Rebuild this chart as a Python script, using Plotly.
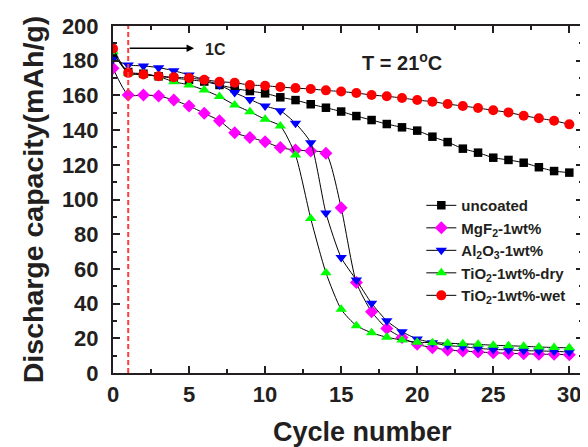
import plotly.graph_objects as go

cycles = list(range(31))

uncoated = [184, 173.5, 172.5, 171, 170, 169, 168, 166, 164, 162.5, 161.2, 158.9, 157.3, 154.9, 152.9,
            150.7, 148.1, 145.8, 143.5, 141.6, 139.7, 136.2, 133.1, 129.3, 127, 124.1, 122.8, 121.2,
            118.6, 116.4, 115.5]
mgf2 = [175.6, 160.2, 160.2, 159.7, 157.3, 153.9, 149.7, 145.4, 138.5, 135.8, 133.3, 129.9, 128.5,
        128, 126.6, 95.3, 52.1, 35.3, 25.7, 20.4, 16.5, 14.6, 13.3, 12.7, 12.1, 11.7, 11.3, 11.1,
        10.8, 10.8, 10.5]
al2o3 = [180.8, 177.5, 177, 176, 174.2, 171.8, 168.9, 166, 161.6, 157.7, 153.9, 151.2, 143.9, 132.7,
         92.2, 66.5, 53.6, 40.2, 30.1, 23.8, 19.6, 17.5, 15.8, 15.2, 14.2, 13.6, 13.3, 12.9, 12.7,
         12.5, 12.1]
tio2_dry = [185.2, 172.7, 172.3, 170.8, 167.9, 166, 163.1, 159.3, 154.5, 150.6, 146.2, 142.4, 125.6,
            89.1, 57.8, 36.7, 27.3, 23.2, 20.6, 19, 17.7, 17.5, 17.2, 16.8, 16.5, 16, 15.7, 15.4,
            15, 14.7, 14.5]
tio2_wet = [187, 173, 172, 171, 170.5, 170, 169, 167.9, 167.3, 166, 165.6, 164.8, 164.2, 163.7, 162.9,
            162.2, 161.4, 160.2, 159.5, 158.5, 157.3, 156.4, 155, 153.9, 152.7, 151.4, 150.2, 148.3,
            146.8, 145.4, 143.3]

names = ["uncoated", "MgF<sub>2</sub>-1wt%", "Al<sub>2</sub>O<sub>3</sub>-1wt%",
         "TiO<sub>2</sub>-1wt%-dry", "TiO<sub>2</sub>-1wt%-wet"]
series = [uncoated, mgf2, al2o3, tio2_dry, tio2_wet]
colors = ["#000000", "#ff00ff", "#0000ff", "#00ff00", "#ff0000"]
symbols = ["square", "diamond", "triangle-down", "triangle-up", "circle"]
sizes = [8.5, 10, 10, 10, 10]

rate_change_cycle = 1
arrow_end_cycle = 5.33
arrow_y = 187.2
label_1c = "1C"
label_1c_x = 5.9
temp_label = "T = 21<sup>o</sup>C"
temp_x, temp_y = 19.0, 179.5
x_title = "Cycle number"
y_title = "Discharge capacity(mAh/g)"

FONT = "Liberation Sans, Arial, sans-serif"
INK = "#231f20"

fig = go.Figure()
for name, ys, c, s, sz in zip(names, series, colors, symbols, sizes):
    fig.add_trace(go.Scatter(
        x=cycles, y=ys, name=name, mode="lines+markers",
        line=dict(color="black", width=1, shape="spline", smoothing=0.6),
        marker=dict(color=c, symbol=s, size=sz, line=dict(width=0)),
    ))

fig.add_shape(type="line", xref="x", yref="paper", x0=rate_change_cycle, x1=rate_change_cycle,
              y0=0, y1=1, line=dict(color="#ff3b3b", width=2, dash="5px,3px"))
fig.add_annotation(x=arrow_end_cycle, y=arrow_y, ax=rate_change_cycle, ay=arrow_y,
                   xref="x", yref="y", axref="x", ayref="y", text="", showarrow=True,
                   arrowhead=2, arrowsize=1, arrowwidth=1.5, arrowcolor="black")
fig.add_annotation(x=label_1c_x, y=arrow_y - 0.8, xref="x", yref="y", text=label_1c,
                   showarrow=False, xanchor="left",
                   font=dict(family=FONT, size=16, color=INK, weight="bold"))
fig.add_annotation(x=temp_x, y=temp_y, xref="x", yref="y", text=temp_label, showarrow=False,
                   font=dict(family=FONT, size=20, color=INK, weight="bold"))
fig.add_annotation(x=0.53, y=0, xref="paper", yref="paper", yanchor="middle", yshift=-59,
                   text=x_title, showarrow=False,
                   font=dict(family=FONT, size=27, color=INK, weight="bold"))

axis_common = dict(showline=True, linecolor=INK, linewidth=2, mirror="ticks", ticks="inside",
                   tickwidth=1.5, ticklen=7, tickcolor=INK, showgrid=False, zeroline=False,
                   tickfont=dict(family=FONT, size=22, color=INK, weight="bold"))

fig.update_xaxes(range=[0, 30.9], dtick=5, tick0=0, ticklabelstandoff=1,
                 minor=dict(dtick=2.5, ticks="inside", ticklen=4, tickwidth=1.5, tickcolor=INK),
                 **axis_common)
fig.update_yaxes(range=[0, 200], dtick=20, tick0=0, ticklabelstandoff=8,
                 minor=dict(dtick=10, ticks="inside", ticklen=4, tickwidth=1.5, tickcolor=INK),
                 title_text=y_title, title_standoff=10,
                 title_font=dict(family=FONT, size=28.5, color=INK, weight="bold"),
                 **axis_common)

fig.update_layout(
    width=580, height=439, margin=dict(l=105, r=3, t=18, b=74),
    plot_bgcolor="white", paper_bgcolor="white", showlegend=True,
    font=dict(family=FONT, color=INK),
    legend=dict(x=0.656, y=0.53, xanchor="left", yanchor="top", bgcolor="rgba(0,0,0,0)",
                font=dict(family=FONT, size=15, color=INK, weight="bold"),
                itemsizing="trace", tracegroupgap=0),
)

fig.write_html("out.html")
